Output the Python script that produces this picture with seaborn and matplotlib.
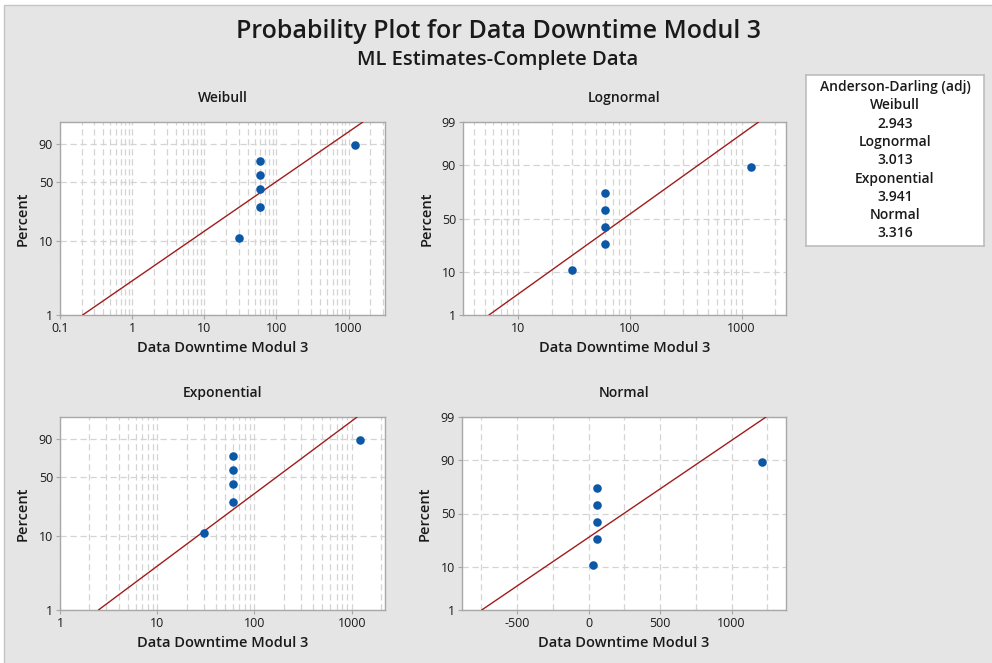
import math
from statistics import NormalDist

import numpy as np
import pandas as pd
import matplotlib
matplotlib.use("Agg")
import matplotlib.pyplot as plt
from matplotlib.patches import Rectangle
from matplotlib.ticker import FixedLocator, FuncFormatter, NullFormatter
import seaborn as sns

# ---- data -------------------------------------------------------------
downtime = [30, 60, 60, 60, 60, 1210]
plot_percent = [10.9, 26.6, 42.2, 57.8, 73.4, 89.1]   # median ranks

# ML fit parameters of each distribution
weibull_shape, weibull_scale = 0.685, 170.0
lognormal_loc, lognormal_scale = 4.478, 1.195
exponential_mean = 247.0
normal_mean, normal_sd = 247.0, 427.0

ad_names = ["Weibull", "Lognormal", "Exponential", "Normal"]
ad_values = ["2.943", "3.013", "3.941", "3.316"]

# ---- probability scales -------------------------------------------------
STD = NormalDist()


def _clip(p):
    return np.clip(np.asarray(p, dtype=float) / 100.0, 1e-9, 1 - 1e-9)


def sev_fwd(p):
    return np.log(-np.log(1 - _clip(p)))


def sev_inv(y):
    return 100.0 * (1 - np.exp(-np.exp(np.asarray(y, dtype=float))))


def norm_fwd(p):
    p = _clip(p)
    return np.vectorize(STD.inv_cdf, otypes=[float])(p) if p.size else p


def norm_inv(z):
    z = np.asarray(z, dtype=float)
    return 100.0 * np.vectorize(STD.cdf, otypes=[float])(z) if z.size else z


# ---- style --------------------------------------------------------------
sns.set_theme(style="white")
plt.rcParams["font.family"] = ["Open Sans", "DejaVu Sans"]
plt.rcParams["text.color"] = "#1a1a1a"
plt.rcParams["axes.labelcolor"] = "#1a1a1a"

BG = "#e5e5e5"
DOT = "#0c58a6"
FIT = "#a01c1c"
GRID = "#d4d4d4"
SPINE = "#a8a8a8"

W, H = 992, 663
fig = plt.figure(figsize=(W / 100, H / 100), dpi=100, facecolor="white")
fig.patches.append(Rectangle((4 / W, -0.05), 1.1, 1.05 - 5 / H, transform=fig.transFigure,
                             facecolor=BG, edgecolor="#c4c4c4", lw=1.0, zorder=-10))


def box(l, t, r, b):
    return [l / W, 1 - b / H, (r - l) / W, (b - t) / H]


panels = [
    dict(name="Weibull", rect=box(60, 122, 385, 315), xscale="log", yscale=(sev_fwd, sev_inv),
         xlim=(0.1, 3200), xticks=[0.1, 1, 10, 100, 1000], yticks=[1, 10, 50, 90]),
    dict(name="Lognormal", rect=box(463, 122, 786, 315), xscale="log", yscale=(norm_fwd, norm_inv),
         xlim=(3.2, 2500), xticks=[10, 100, 1000], yticks=[1, 10, 50, 90, 99]),
    dict(name="Exponential", rect=box(60, 417, 385, 610), xscale="log", yscale=(sev_fwd, sev_inv),
         xlim=(1, 2200), xticks=[1, 10, 100, 1000], yticks=[1, 10, 50, 90]),
    dict(name="Normal", rect=box(462, 417, 786, 610), xscale="linear", yscale=(norm_fwd, norm_inv),
         xlim=(-884, 1380), xticks=[-500, 0, 500, 1000], yticks=[1, 10, 50, 90, 99]),
]

# fitted percentiles for each distribution
line_p = np.linspace(1, 99, 300)
q = line_p / 100.0
z = np.array([STD.inv_cdf(v) for v in q])
fit_x = {
    "Weibull": weibull_scale * (-np.log(1 - q)) ** (1 / weibull_shape),
    "Lognormal": np.exp(lognormal_loc + lognormal_scale * z),
    "Exponential": exponential_mean * (-np.log(1 - q)),
    "Normal": normal_mean + normal_sd * z,
}

points = pd.DataFrame({"downtime": downtime, "percent": plot_percent})

for pnl in panels:
    ax = fig.add_axes(pnl["rect"])
    ax.set_facecolor("white")
    ax.set_xscale(pnl["xscale"])
    ax.set_yscale("function", functions=pnl["yscale"])
    ax.set_xlim(*pnl["xlim"])
    ax.set_ylim(1, 99)

    # grid
    ax.xaxis.set_major_locator(FixedLocator(pnl["xticks"]))
    if pnl["xscale"] == "log":
        minor = [m * 10.0 ** e for e in range(-2, 5) for m in range(2, 10)]
    else:
        minor = [-750, -250, 250, 750, 1250]
    ax.xaxis.set_minor_locator(FixedLocator(minor))
    ax.xaxis.set_minor_formatter(NullFormatter())
    ax.xaxis.set_major_formatter(FuncFormatter(lambda v, _: f"{v:g}"))
    ax.yaxis.set_major_locator(FixedLocator(pnl["yticks"]))
    ax.yaxis.set_minor_locator(FixedLocator([]))
    ax.yaxis.set_major_formatter(FuncFormatter(lambda v, _: f"{v:g}"))
    ax.grid(which="both", axis="x", color=GRID, lw=0.9, ls=(0, (5, 3)))
    ax.grid(which="major", axis="y", color=GRID, lw=0.9, ls=(0, (5, 3)))
    ax.set_axisbelow(True)

    ax.tick_params(which="major", length=3, width=0.8, color=SPINE, labelsize=9,
                   labelcolor="#1a1a1a", pad=2, direction="out")
    ax.tick_params(which="minor", length=0)
    ax.tick_params(axis="x", bottom=True)
    ax.tick_params(axis="y", left=True)
    for s in ax.spines.values():
        s.set_color(SPINE)
        s.set_linewidth(1.0)

    sns.lineplot(x=fit_x[pnl["name"]], y=line_p, ax=ax, color=FIT, lw=1.0,
                 estimator=None, sort=False, zorder=3)
    sns.scatterplot(data=points, x="downtime", y="percent", ax=ax, color=DOT,
                    s=38, linewidth=0, zorder=4)
    ax.set_xlim(*pnl["xlim"])
    ax.set_ylim(1, 99)

    ax.set_xlabel("Data Downtime Modul 3", fontsize=10.5, fontweight="semibold")
    ax.set_ylabel("Percent", fontsize=10.5, fontweight="semibold")
    ax.xaxis.set_label_coords(0.5, -26 / 193)
    ax.yaxis.set_label_coords(-30 / 325, 0.5)
    ax.text(0.5, 1 + 24 / 193, pnl["name"], transform=ax.transAxes, ha="center",
            va="center", fontsize=10, fontweight="semibold")

# titles
fig.text(498 / W, 1 - 32 / H, "Probability Plot for Data Downtime Modul 3",
         ha="center", va="center", fontsize=18, fontweight="semibold")
fig.text(498 / W, 1 - 60 / H, "ML Estimates-Complete Data",
         ha="center", va="center", fontsize=14.5, fontweight="semibold")

# goodness-of-fit table
tab = fig.add_axes(box(806, 75, 984, 246))
tab.set_facecolor("white")
tab.set_xticks([])
tab.set_yticks([])
for s in tab.spines.values():
    s.set_color("#bdbdbd")
    s.set_linewidth(1.2)
rows = ["Anderson-Darling (adj)"]
for n, v in zip(ad_names, ad_values):
    rows += [n, v]
for i, txt in enumerate(rows):
    y_px = 87 + i * 18.3
    tab.text(0.5, 1 - (y_px - 75) / 171, txt, transform=tab.transAxes, ha="center",
             va="center", fontsize=10, fontweight="semibold")

fig.savefig("out.png", dpi=100, facecolor=fig.get_facecolor())
